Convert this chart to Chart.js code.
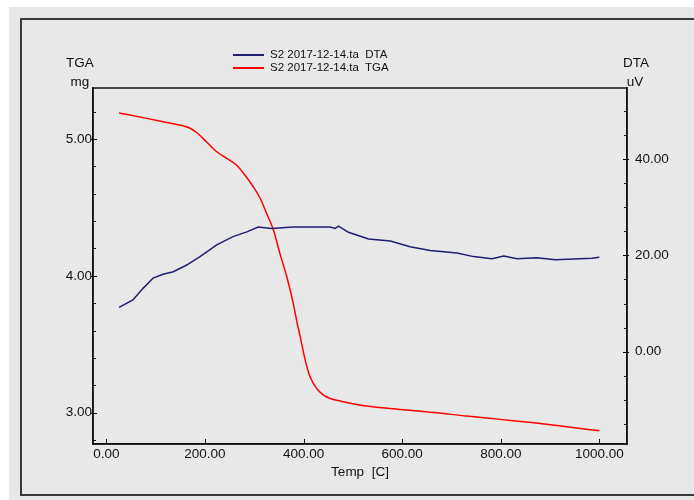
<!DOCTYPE html>
<html>
<head>
<meta charset="utf-8">
<script src="https://cdn.jsdelivr.net/npm/chart.js@4.4.1/dist/chart.umd.min.js"></script>
<style>
  html, body { margin: 0; padding: 0; }
  body { width: 694px; height: 500px; background: #e8e8e8; position: relative; overflow: hidden;
         font-family: "Liberation Sans", Arial, sans-serif; color: #111; }
  .strip { position: absolute; background: #fff; }
  #frame { position: absolute; left: 20px; top: 18px; width: 700px; height: 474px;
           border-left: 2px solid #3a3a3a; border-top: 2px solid #3a3a3a; border-bottom: 2px solid #3a3a3a; }
  #chart { position: absolute; left: 0; top: 0; }
  .lbl { position: absolute; font-size: 13.5px; line-height: 15px; text-align: center; }
  #legend { position: absolute; left: 233px; top: 48px; font-size: 11.5px; line-height: 13px; }
  #legend div { display: flex; align-items: center; white-space: pre; }
  #legend span.ln { display: inline-block; width: 31px; height: 2px; margin-right: 6px; }
</style>
</head>
<body>
<div class="strip" style="left:0;top:0;width:694px;height:7px"></div>
<div class="strip" style="left:0;top:0;width:9px;height:500px"></div>
<div id="frame"></div>
<canvas id="chart" width="694" height="500"></canvas>
<div class="lbl" style="left:62px;top:55px;width:36px">TGA</div>
<div class="lbl" style="left:62px;top:74px;width:36px">mg</div>
<div class="lbl" style="left:618px;top:55px;width:36px">DTA</div>
<div class="lbl" style="left:617px;top:74px;width:36px">uV</div>
<div id="legend">
  <div><span class="ln" style="background:#1e1e6e"></span>S2 2017-12-14.ta  DTA</div>
  <div><span class="ln" style="background:#ff0000"></span>S2 2017-12-14.ta  TGA</div>
</div>
<script>
// TGA (mg) vs temperature
const tgaTemp = [26, 48, 82, 115, 149, 162, 172, 183, 203, 224, 244, 264, 281, 298, 312, 325, 339, 352, 366, 379, 387, 393, 403, 413, 427, 440, 454, 481, 528, 596, 664, 731, 799, 867, 934, 1000];
const tgaMass = [5.19, 5.175, 5.151, 5.127, 5.102, 5.09, 5.075, 5.048, 4.98, 4.907, 4.859, 4.81, 4.737, 4.651, 4.567, 4.457, 4.335, 4.164, 3.993, 3.80, 3.655, 3.56, 3.39, 3.265, 3.175, 3.13, 3.104, 3.08, 3.048, 3.024, 3.002, 2.975, 2.951, 2.926, 2.897, 2.868];

// DTA (uV) vs temperature
const dtaTemp = [26, 54, 75, 95, 115, 136, 163, 190, 224, 257, 285, 308, 335, 379, 454, 464, 471, 491, 532, 576, 616, 657, 711, 745, 782, 806, 833, 873, 911, 985, 1000];
const dtaUv = [9.2, 10.75, 13.2, 15.3, 16.1, 16.6, 18.0, 19.75, 22.2, 23.9, 24.9, 25.9, 25.6, 25.9, 25.9, 25.6, 26.1, 24.8, 23.4, 23.0, 21.8, 21.0, 20.5, 19.75, 19.3, 19.9, 19.3, 19.5, 19.1, 19.4, 19.6];

const xTicks = [0, 200, 400, 600, 800, 1000];
const tgaTicks = [3, 4, 5];
const dtaTicks = [0, 20, 40];

function pts(xs, ys) { return xs.map((x, i) => ({ x: x, y: ys[i] })); }
function fixTicks(vals) { return function (scale) { scale.ticks = vals.map(v => ({ value: v })); }; }

// inward tick marks + box around the plot
const boxPlugin = {
  id: 'box',
  afterDraw(chart) {
    const ctx = chart.ctx, a = chart.chartArea;
    ctx.save();
    ctx.strokeStyle = '#111';
    ctx.lineWidth = 1.5;
    ctx.strokeRect(a.left, a.top, a.right - a.left, a.bottom - a.top);
    ctx.lineWidth = 1;
    ctx.beginPath();
    const sx = chart.scales.x;
    xTicks.forEach(v => { const p = Math.round(sx.getPixelForValue(v)) + 0.5; ctx.moveTo(p, a.bottom); ctx.lineTo(p, a.bottom - 5); });
    const sl = chart.scales.yTGA;
    for (let v = 2.8; v <= 5.31; v += 0.2) {
      const p = Math.round(sl.getPixelForValue(v)) + 0.5;
      const major = Math.abs(v - Math.round(v)) < 0.01;
      ctx.moveTo(a.left - (major ? 2 : 0), p); ctx.lineTo(a.left + (major ? 4 : 3), p);
    }
    const sr = chart.scales.yDTA;
    for (let v = -15; v <= 50; v += 5) {
      const p = Math.round(sr.getPixelForValue(v)) + 0.5;
      const major = v % 20 === 0;
      ctx.moveTo(a.right + (major ? 2 : 0), p); ctx.lineTo(a.right - (major ? 4 : 3), p);
    }
    ctx.stroke();
    ctx.restore();
  }
};

const tickFont = { family: '"Liberation Sans", Arial, sans-serif', size: 13.5 };

new Chart(document.getElementById('chart'), {
  type: 'line',
  data: {
    datasets: [
      { label: 'S2 2017-12-14.ta  DTA', data: pts(dtaTemp, dtaUv), yAxisID: 'yDTA', borderColor: '#1e1e6e', borderWidth: 1.5, pointRadius: 0, tension: 0 },
      { label: 'S2 2017-12-14.ta  TGA', data: pts(tgaTemp, tgaMass), yAxisID: 'yTGA', borderColor: '#ff0000', borderWidth: 1.5, pointRadius: 0, cubicInterpolationMode: 'monotone' }
    ]
  },
  options: {
    responsive: false,
    animation: false,
    layout: { padding: { top: 88, left: 0, right: 0, bottom: 20 } },
    plugins: { legend: { display: false }, tooltip: { enabled: false } },
    scales: {
      x: {
        type: 'linear', min: -27, max: 1056,
        afterBuildTicks: fixTicks(xTicks),
        afterFit(s) { s.height = 36; },
        grid: { drawOnChartArea: false, drawTicks: false },
        border: { color: '#111', width: 1.5 },
        ticks: { font: tickFont, color: '#111', padding: 2, maxRotation: 0, callback: v => v.toFixed(2) },
        title: { display: true, text: 'Temp  [C]', font: tickFont, color: '#111', padding: { top: 2, bottom: 0 } }
      },
      yTGA: {
        type: 'linear', position: 'left', min: 2.771, max: 5.373,
        afterBuildTicks: fixTicks(tgaTicks),
        afterFit(s) { s.width = 93; },
        grid: { drawOnChartArea: false, drawTicks: false },
        border: { color: '#111', width: 1.5 },
        ticks: { font: tickFont, color: '#111', padding: 1, callback: v => v.toFixed(2) }
      },
      yDTA: {
        type: 'linear', position: 'right', min: -19.2, max: 54.8,
        afterBuildTicks: fixTicks(dtaTicks),
        afterFit(s) { s.width = 67; },
        grid: { drawOnChartArea: false, drawTicks: false },
        border: { color: '#111', width: 1.5 },
        ticks: { font: tickFont, color: '#111', padding: 8, callback: v => v.toFixed(2) }
      }
    }
  },
  plugins: [boxPlugin]
});
</script>
</body>
</html>
